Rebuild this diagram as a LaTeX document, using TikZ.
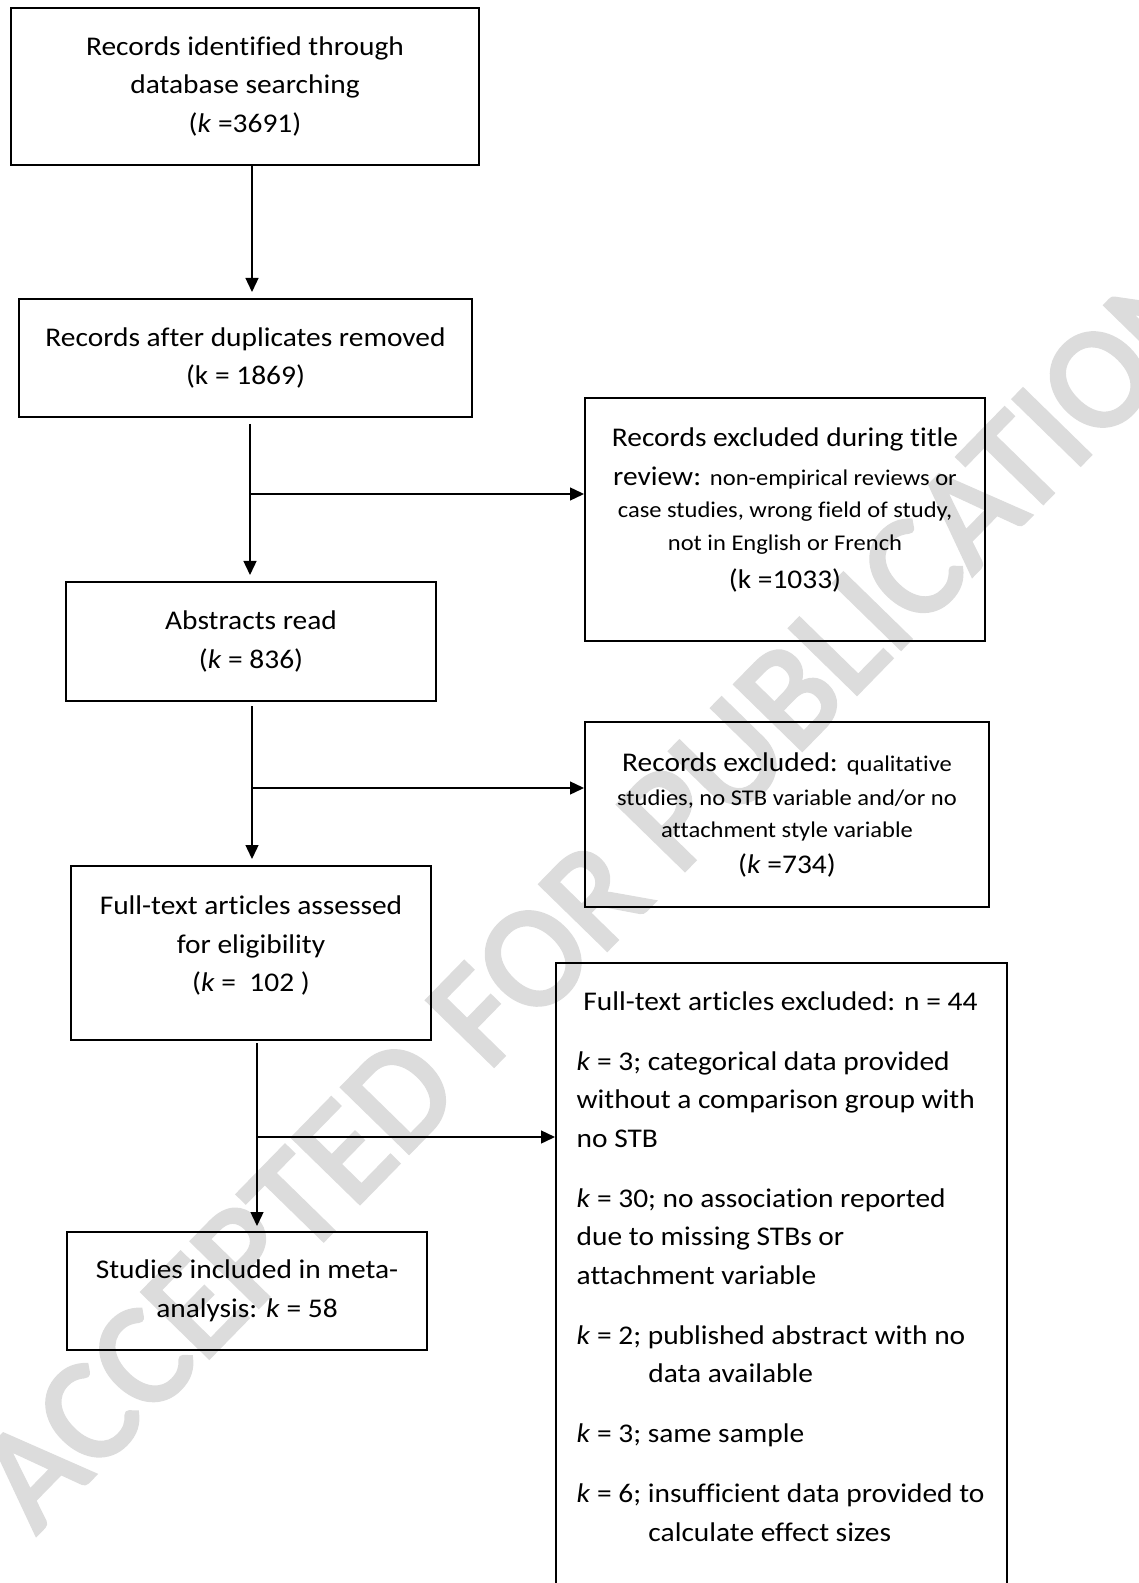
\documentclass[tikz,border=0pt]{standalone}
\usepackage{fontspec}
\setmainfont{Carlito}[FakeStretch=1.09, Ligatures=CommonOff]
\newfontfamily\stampfont{Carlito}[FakeBold=3, Ligatures=CommonOff]
\usepackage{tikz}
\usetikzlibrary{arrows.meta}
\definecolor{wmgray}{RGB}{220,220,220}
\newcommand{\kk}{\textit{k}}
\newcommand{\sm}[1]{{\fontsize{9}{13}\selectfont #1}}
\setlength{\parindent}{0pt}

\begin{document}
\begin{tikzpicture}[x=0.4pt, y=-0.4pt, line width=0.55pt,
    font=\fontsize{10.8}{15.4}\selectfont,
    box/.style={draw, line width=0.8pt, align=center, inner sep=0pt},
    arr/.style={-{Triangle[length=5.6pt, width=5.2pt]}}]
  \useasboundingbox (0,0) rectangle (1138,1583);

  % watermark
  \node[wmgray, rotate=45.7, inner sep=0pt, font=\stampfont\fontsize{58}{58}\selectfont] (stamp) at (600,890) {ACCEPTED FOR PUBLICATION};

  \node[box, minimum width=187.2pt, minimum height=62.8pt] (srch) at (245,86.5) {Records identified through\\ database searching\\ (\kk{} =3691)};
  \node[box, minimum width=181.2pt, minimum height=47.2pt] (dupl) at (245.5,358) {Records after duplicates removed\\ (k = 1869)};
  \node[box, minimum width=160pt, minimum height=97.2pt] (titl) at (785,519.5) {Records excluded during title\\ review: \sm{non-empirical reviews or}\\[-2.4pt] \sm{case studies, wrong field of study,}\\[-2.4pt] \sm{not in English or French}\\ (k =1033)\rule[-8.8pt]{0pt}{0pt}};
  \node[box, minimum width=148pt, minimum height=47.6pt] (abst) at (251,641.5) {Abstracts read\\ (\kk{} = 836)};
  \node[box, minimum width=161.6pt, minimum height=74pt] (recx) at (787,814.5) {Records excluded: \sm{qualitative}\\[-1.8pt] \sm{studies, no STB variable and/or no}\\[-2.6pt] \sm{attachment style variable}\\[-1pt] (\kk{} =734)};
  \node[box, minimum width=144pt, minimum height=69.6pt] (full) at (251,953) {Full-text articles assessed\\ for eligibility\\ (\kk{}~=~~102~)\rule[-7.2pt]{0pt}{0pt}};
  \node[box, minimum width=144pt, minimum height=47.2pt] (incl) at (247,1291) {Studies included in meta-\\ analysis: \kk{} = 58};

  % excluded full texts, runs off the page
  \node[box, minimum width=180.4pt, minimum height=253.2pt, anchor=north west] (ftex) at (555,962) {};
  \node[anchor=base, inner sep=0pt] (ftexhead) at (780.5,1010) {Full-text articles excluded: n = 44};
  \node[anchor=north west, align=left, inner sep=0pt] (ftexlist) at (576,1051) {%
    \kk{} = 3; categorical data provided\\
    without a comparison group with\\
    no STB\\[8.6pt]
    \kk{} = 30; no association reported\\
    due to missing STBs or\\
    attachment variable\\[8.6pt]
    \kk{} = 2; published abstract with no\\
    \hspace*{28.7pt}data available\\[8.6pt]
    \kk{} = 3; same sample\\[8.6pt]
    \kk{} = 6; insufficient data provided to\\
    \hspace*{28.7pt}calculate effect sizes};

  % trunk and side arrows
  \coordinate (t1) at (252,0);
  \coordinate (b1) at (250,494);
  \coordinate (b2) at (252,788);
  \coordinate (b3) at (257,1137);

  \draw[arr] (t1 |- srch.south) -- ([yshift=2.4pt] t1 |- dupl.north);
  \draw[arr] ([yshift=-2.4pt] b1 |- dupl.south) -- ([yshift=2.4pt] b1 |- abst.north);
  \draw[arr] (b1) -- (b1 -| titl.west);
  \draw[arr] ([yshift=-1.6pt] b2 |- abst.south) -- ([yshift=2.4pt] b2 |- full.north);
  \draw[arr] (b2) -- (b2 -| recx.west);
  \draw[arr] ([yshift=-0.8pt] b3 |- full.south) -- ([yshift=2pt] b3 |- incl.north);
  \draw[arr] (b3) -- (b3 -| ftex.west);
\end{tikzpicture}
\end{document}
